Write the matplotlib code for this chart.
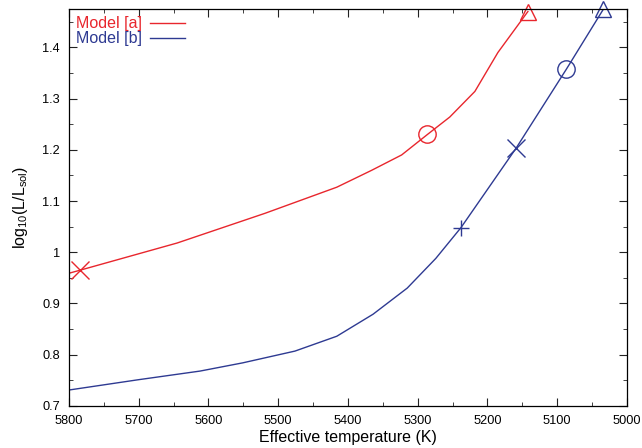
import matplotlib
matplotlib.use("Agg")
import matplotlib.pyplot as plt
from matplotlib.ticker import MultipleLocator, FuncFormatter

plt.rcParams['font.family'] = ['Liberation Sans', 'DejaVu Sans']
plt.rcParams['mathtext.fontset'] = 'custom'
plt.rcParams['mathtext.rm'] = 'Liberation Sans'

# Model [a]
teff_a = [5800, 5784, 5645, 5519, 5416, 5366, 5323, 5286, 5254, 5218, 5185, 5142]
logl_a = [0.959, 0.965, 1.018, 1.076, 1.127, 1.160, 1.190, 1.230, 1.264, 1.314, 1.390, 1.470]
# Model [b]
teff_b = [5800, 5701, 5612, 5551, 5476, 5416, 5364, 5315, 5274, 5238, 5159, 5087, 5034]
logl_b = [0.731, 0.751, 0.768, 0.784, 0.807, 0.836, 0.879, 0.930, 0.988, 1.048, 1.203, 1.357, 1.474]

# marked points (marker, T, logL)
marks_a = [('x', 5784, 0.965), ('o', 5286, 1.230), ('^', 5142, 1.470)]
marks_b = [('+', 5238, 1.048), ('x', 5159, 1.203), ('o', 5087, 1.357), ('^', 5034, 1.474)]

red = '#e8262d'
blue = '#2e3a92'

fig = plt.figure(figsize=(6.42, 4.48), dpi=100)
ax = fig.add_axes([0.1075, 0.094, 0.869, 0.886])

ax.plot(teff_a, logl_a, color=red, lw=1.0, label='Model [a]')
ax.plot(teff_b, logl_b, color=blue, lw=1.0, label='Model [b]')

sizes = {'x': 12.5, 'o': 12.5, '^': 12, '+': 12}
for m, t, l in marks_a:
    ax.plot(t, l, marker=m, ms=sizes[m], mfc='none', mec=red, mew=1.0, clip_on=False)
for m, t, l in marks_b:
    ax.plot(t, l, marker=m, ms=sizes[m], mfc='none', mec=blue, mew=1.0, clip_on=False)

ax.set_xlim(5800, 5000)
ax.set_ylim(0.7, 1.475)
ax.xaxis.set_major_locator(MultipleLocator(100))
ax.xaxis.set_minor_locator(MultipleLocator(50))
ax.yaxis.set_major_locator(MultipleLocator(0.1))
ax.yaxis.set_minor_locator(MultipleLocator(0.05))
ax.yaxis.set_major_formatter(FuncFormatter(lambda v, p: ('%.1f' % v).rstrip('0').rstrip('.')))
ax.tick_params(which='both', direction='in', top=True, right=True, labelsize=9.2, color='#222222')
ax.tick_params(which='major', length=5.5, pad=6.5)
ax.tick_params(which='minor', length=3)
for s in ax.spines.values():
    s.set_linewidth(0.9)

ax.set_xlabel('Effective temperature (K)', fontsize=11.5, labelpad=2)
ax.set_ylabel(r'$\mathregular{log_{10}(L/L_{sol})}$', fontsize=11.5, labelpad=9)

leg = ax.legend(loc='upper left', frameon=False, markerfirst=False, fontsize=11.5,
                handlelength=2.2, handletextpad=0.5, borderaxespad=0.2,
                labelspacing=0.0, labelcolor='linecolor', borderpad=0.25)

fig.savefig('out.png', dpi=100)
